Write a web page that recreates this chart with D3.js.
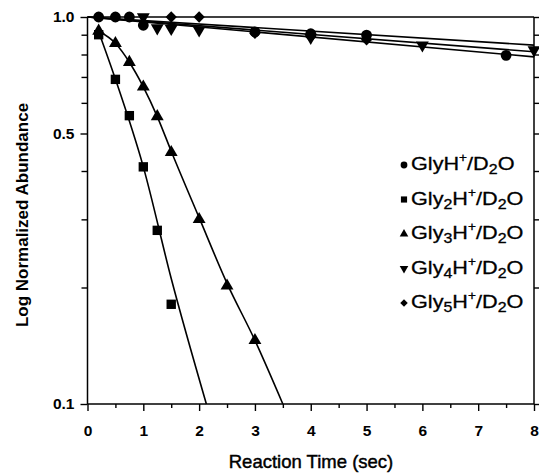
<!DOCTYPE html>
<html>
<head>
<meta charset="utf-8">
<script src="https://cdn.jsdelivr.net/npm/d3@7"></script>
<style>
  html, body { margin: 0; padding: 0; background: #fff; }
  svg { display: block; }
  text { font-family: "Liberation Sans", Arial, sans-serif; fill: #000; }
</style>
</head>
<body>
<svg id="chart" width="539" height="476"></svg>
<script>
// Measured H/D exchange data: [reaction time (s), normalized abundance]
const glyData  = [[0.2, 1.0], [0.5, 1.0], [0.75, 1.0], [1.0, 0.952], [3, 0.915], [4, 0.905], [5, 0.898], [7.5, 0.796]];
const gly2Data = [[0.2, 0.90], [0.5, 0.69], [0.75, 0.556], [1.0, 0.41], [1.25, 0.281], [1.5, 0.181]];
const gly3Data = [[0.2, 0.92], [0.5, 0.855], [0.75, 0.764], [1.0, 0.66], [1.25, 0.553], [1.5, 0.447], [2.0, 0.30], [2.5, 0.202], [3.0, 0.146]];
const gly4Data = [[1.0, 1.0], [1.25, 0.937], [1.5, 0.933], [2.0, 0.925], [4, 0.885], [6, 0.846], [8, 0.822]];
const gly5Data = [[1.5, 1.0], [2.0, 1.0], [3, 0.908], [4, 0.889], [5, 0.873]];

// Fitted decay curves
const glyFit  = [[0, 1.0], [8, 0.789]];
const gly2Fit = [[0.2, 0.916], [0.5, 0.691], [1.0, 0.41], [1.5, 0.211], [2.13, 0.1]];
const gly3Fit = [[0.2, 0.92], [0.5, 0.855], [0.75, 0.764], [1.0, 0.66], [1.25, 0.553], [1.5, 0.45], [2.0, 0.303], [2.5, 0.205], [3.0, 0.146], [3.5, 0.1]];
const gly4Fit = [[0, 1.0], [8, 0.813]];
const gly5Fit = [[0, 1.0], [8, 0.846]];

// Axis ticks
const xMajorTicks = [0, 1, 2, 3, 4, 5, 6, 7, 8];
const xMinorTicks = [0.5, 1.5, 2.5, 3.5, 4.5, 5.5, 6.5, 7.5];
const yMajorTicks = [0.1, 0.5, 1.0];
const yMinorTicks = [0.2, 0.3, 0.4, 0.6, 0.7, 0.8, 0.9];

// Legend entries: base name, subscript count
const seriesNames = ["Gly", "Gly", "Gly", "Gly", "Gly"];
const seriesSubs = ["", "2", "3", "4", "5"];

const svg = d3.select("#chart");

const x = d3.scaleLinear().domain([0, 8]).range([87.5, 534]);
const y = d3.scaleLog().domain([0.1, 1]).range([404, 17]);

const shapes = [
  { sym: d3.symbolCircle, size: 92, rot: 0, leg: 36 },
  { sym: d3.symbolSquare, size: 88, rot: 0, leg: 38 },
  { sym: d3.symbolTriangle, size: 72, rot: 0, leg: 32 },
  { sym: d3.symbolTriangle, size: 72, rot: 180, leg: 32 },
  { sym: d3.symbolSquare, size: 64, rot: 45, leg: 28 }
];

const series = [
  { data: glyData, fit: glyFit },
  { data: gly2Data, fit: gly2Fit },
  { data: gly3Data, fit: gly3Fit },
  { data: gly4Data, fit: gly4Fit },
  { data: gly5Data, fit: gly5Fit }
];

// Plot frame
const frame = svg.append("g").attr("stroke", "#000").attr("stroke-width", 1.5).attr("fill", "none");
frame.append("line").attr("x1", x(0)).attr("x2", x(8)).attr("y1", y(1)).attr("y2", y(1));
frame.append("line").attr("x1", x(0)).attr("x2", x(8)).attr("y1", y(0.1)).attr("y2", y(0.1));
frame.append("line").attr("x1", x(0)).attr("x2", x(0)).attr("y1", y(1)).attr("y2", y(0.1));
frame.append("line").attr("x1", x(8)).attr("x2", x(8)).attr("y1", y(1)).attr("y2", y(0.1));

function styleAxis(g) {
  g.select(".domain").remove();
  g.selectAll(".tick line").attr("stroke", "#000").attr("stroke-width", 1.4);
  g.selectAll(".tick text")
    .attr("font-family", "Liberation Sans, Arial, sans-serif")
    .attr("font-weight", "bold")
    .attr("font-size", 15.5)
    .attr("fill", "#000");
}

// Bottom axis
svg.append("g").attr("transform", `translate(0,${y(0.1)})`)
  .call(d3.axisBottom(x).tickValues(xMajorTicks).tickSize(7).tickPadding(14).tickFormat(d3.format("d")))
  .call(styleAxis);
svg.append("g").attr("transform", `translate(0,${y(0.1)})`)
  .call(d3.axisBottom(x).tickValues(xMinorTicks).tickSize(4).tickFormat(""))
  .call(styleAxis);

// Left axis
svg.append("g").attr("transform", `translate(${x(0)},0)`)
  .call(d3.axisLeft(y).tickValues(yMajorTicks).tickSize(7).tickPadding(6).tickFormat(d3.format(".1f")))
  .call(styleAxis);
svg.append("g").attr("transform", `translate(${x(0)},0)`)
  .call(d3.axisLeft(y).tickValues(yMinorTicks).tickSize(6).tickFormat(""))
  .call(styleAxis);

// Right axis (mirror ticks)
svg.append("g").attr("transform", `translate(${x(8)},0)`)
  .call(d3.axisRight(y).tickValues(yMajorTicks.concat(yMinorTicks)).tickSize(6).tickFormat(""))
  .call(styleAxis);

// Fitted curves
const line = d3.line().x(d => x(d[0])).y(d => y(d[1])).curve(d3.curveMonotoneX);
svg.append("g").selectAll("path").data(series).join("path")
  .attr("d", d => line(d.fit))
  .attr("fill", "none")
  .attr("stroke", "#000")
  .attr("stroke-width", 1.6);

// Data markers
series.forEach((s, i) => {
  const sh = shapes[i];
  svg.append("g").selectAll("path").data(s.data).join("path")
    .attr("d", d3.symbol(sh.sym, sh.size)())
    .attr("transform", d => `translate(${x(d[0])},${y(d[1])}) rotate(${sh.rot})`)
    .attr("fill", "#000");
});

// Legend (text slightly widened)
const legend = svg.append("g");
seriesNames.forEach((name, i) => {
  const by = 170 + i * 34.5;
  const sh = shapes[i];
  legend.append("path")
    .attr("d", d3.symbol(sh.sym, sh.leg)())
    .attr("transform", `translate(404,${by - 5}) rotate(${sh.rot})`)
    .attr("fill", "#000");
  const t = legend.append("text")
    .attr("transform", `translate(411,${by}) scale(1.14,1)`)
    .attr("font-size", 19).attr("stroke", "#000").attr("stroke-width", 0.3);
  t.append("tspan").text(name);
  if (seriesSubs[i]) t.append("tspan").attr("font-size", 14).attr("dy", 4).text(seriesSubs[i]);
  t.append("tspan").attr("dy", seriesSubs[i] ? -4 : 0).text("H");
  t.append("tspan").attr("font-size", 12).attr("dy", -8).text("+");
  t.append("tspan").attr("dy", 8).text("/D");
  t.append("tspan").attr("font-size", 14).attr("dy", 4).text("2");
  t.append("tspan").attr("dy", -4).text("O");
});

// Axis titles
svg.append("text")
  .attr("x", 311).attr("y", 468)
  .attr("text-anchor", "middle")
  .attr("font-size", 18.5)
  .attr("stroke", "#000").attr("stroke-width", 0.45)
  .text("Reaction Time (sec)");

svg.append("text")
  .attr("transform", `translate(28,215) rotate(-90)`)
  .attr("text-anchor", "middle")
  .attr("font-size", 17)
  .attr("font-weight", "bold")
  .text("Log Normalized Abundance");
</script>
</body>
</html>
